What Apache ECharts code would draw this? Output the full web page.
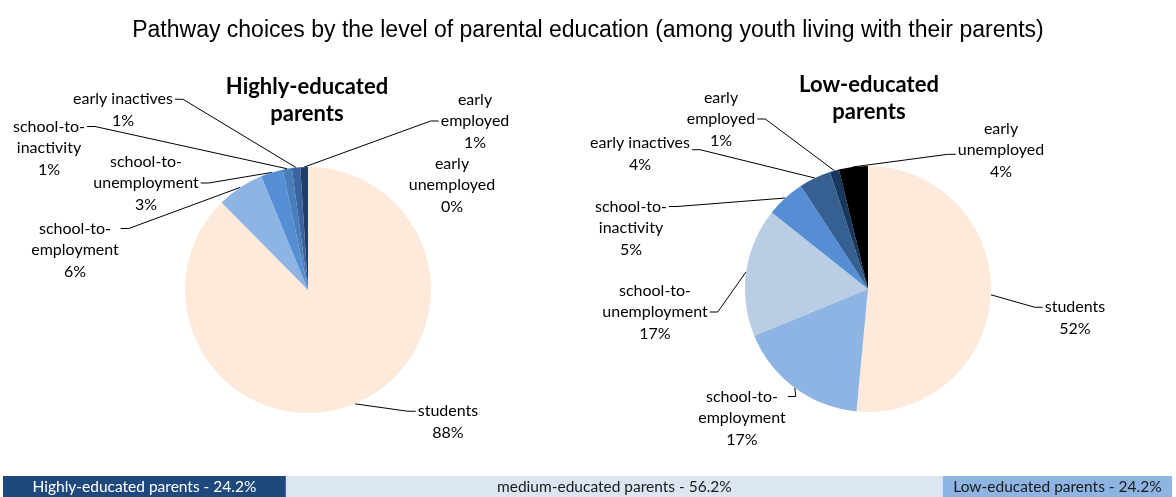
<!DOCTYPE html>
<html>
<head>
<meta charset="utf-8">
<script src="https://cdn.jsdelivr.net/npm/echarts@6/dist/echarts.min.js"></script>
<style>
  html, body { margin: 0; padding: 0; background: #fff; }
  #chart { width: 1176px; height: 497px; }
</style>
</head>
<body>
<div id="chart"></div>
<script>
// pathway categories, clockwise from 12 o'clock
const pathways = ['students', 'school-to-employment', 'school-to-unemployment', 'school-to-inactivity',
  'early inactives', 'early employed', 'early unemployed'];
// shares (%)
const highlyShares = [87.6, 6.2, 2.9, 1.2, 1.1, 1.0, 0];
const lowShares = [51.5, 17.3, 16.9, 5.1, 4.2, 1.2, 3.8];

// bottom strip: share of youth by parental education
const groupNames = ['Highly-educated parents', 'medium-educated parents', 'Low-educated parents'];
const groupShares = [24.2, 56.2, 19.6];
const groupLabels = ['24.2%', '56.2%', '24.2%'];

const highlyColors = ['#FDEADA', '#8EB4E3', '#558ED5', '#4A7EBB', '#3A64A0', '#1F3E6A', '#000000'];
const lowColors = ['#FDEADA', '#8EB4E3', '#B9CDE5', '#558ED5', '#376092', '#17375E', '#000000'];
const barColors = ['#1F497D', '#DCE6F2', '#8EB4E3'];

// label centre x, centre y, text row the leader meets (-1 = no leader)
const highlyLabelPos = [[448, 422, 0], [75, 250, 0], [146, 183, 1], [49, 148, 0], [123, 110, 0], [475, 121, 1], [452, 185, -1]];
const lowLabelPos = [[1075, 318, 0], [742, 418, 0], [655, 312, 1], [631, 228, 0], [640, 154, 0.3], [721, 119, 1], [1001, 150, 1.2]];

const FONT = 'Lato';
const LH = 21.5;
const R = 123;

function wrapName(name) {
  return name.replace('school-to-', 'school-to-\n').replace(/^early (employed|unemployed)$/, 'early\n$1');
}

function labelLayoutFor(pos, center, values) {
  const total = values.reduce((a, b) => a + b, 0);
  return function (p) {
    const [x, y, row] = pos[p.dataIndex];
    if (row < 0) return { x, y, align: 'center', verticalAlign: 'middle' };
    let anchor = p.labelLinePoints && p.labelLinePoints[0];
    if (!anchor) {
      let before = 0;
      for (let i = 0; i < p.dataIndex; i++) before += values[i];
      const t = 2 * Math.PI * (before + values[p.dataIndex] / 2) / total;
      anchor = [center[0] + R * Math.sin(t), center[1] - R * Math.cos(t)];
    }
    const w = p.labelRect.width, h = p.labelRect.height;
    const attachY = y - h / 2 + LH * (row + 0.5);
    const dir = anchor[0] > x ? 1 : -1;
    const sideX = x + dir * (w / 2 + 2);
    return {
      x, y, align: 'center', verticalAlign: 'middle',
      labelLinePoints: [anchor, [sideX + dir * 8, attachY], [sideX, attachY]]
    };
  };
}

function pieSeries(values, colors, pos, center) {
  return {
    type: 'pie',
    center: center,
    radius: R,
    startAngle: 90,
    clockwise: true,
    avoidLabelOverlap: false,
    animation: false,
    silent: true,
    data: pathways.map((name, i) => ({
      name: name,
      value: values[i],
      itemStyle: { color: colors[i] },
      labelLine: { show: pos[i][2] >= 0 }
    })),
    label: {
      show: true,
      position: 'outside',
      color: '#000',
      fontFamily: FONT,
      fontSize: 16,
      lineHeight: LH,
      align: 'center',
      formatter: p => wrapName(p.name) + '\n' + Math.round(p.value) + '%'
    },
    labelLine: { show: true, lineStyle: { color: '#000', width: 1 } },
    labelLayout: labelLayoutFor(pos, center, values)
  };
}

const chart = echarts.init(document.getElementById('chart'));

const option = {
  animation: false,
  title: [
    {
      text: 'Pathway choices by the level of parental education (among youth living with their parents)',
      left: 'center', top: 19, padding: 0,
      textStyle: { fontFamily: 'Liberation Sans', fontSize: 23, fontWeight: 'normal', color: '#000' }
    },
    {
      text: 'Highly-educated\nparents', left: 307, top: 73, padding: 0, textAlign: 'center',
      textStyle: { fontFamily: FONT, fontSize: 22, fontWeight: 'bold', lineHeight: 27, color: '#000' }
    },
    {
      text: 'Low-educated\nparents', left: 869, top: 71, padding: 0, textAlign: 'center',
      textStyle: { fontFamily: FONT, fontSize: 22, fontWeight: 'bold', lineHeight: 27, color: '#000' }
    }
  ],
  grid: { left: 3, right: 4, top: 476, height: 27 },
  xAxis: { type: 'value', min: 0, max: 100, show: false },
  yAxis: { type: 'category', data: ['share'], show: false },
  series: [
    pieSeries(highlyShares, highlyColors, highlyLabelPos, [308, 290]),
    pieSeries(lowShares, lowColors, lowLabelPos, [868, 289]),
    ...groupNames.map((name, i) => ({
      type: 'bar',
      stack: 'groups',
      barWidth: '100%',
      silent: true,
      data: [groupShares[i]],
      itemStyle: { color: barColors[i] },
      label: {
        show: true,
        position: 'inside',
        formatter: name + ' - ' + groupLabels[i],
        color: i === 0 ? '#fff' : '#1a1a1a',
        fontFamily: FONT,
        fontSize: 15.5
      }
    }))
  ]
};

chart.setOption(option);
window.addEventListener('resize', () => chart.resize());
</script>
</body>
</html>
